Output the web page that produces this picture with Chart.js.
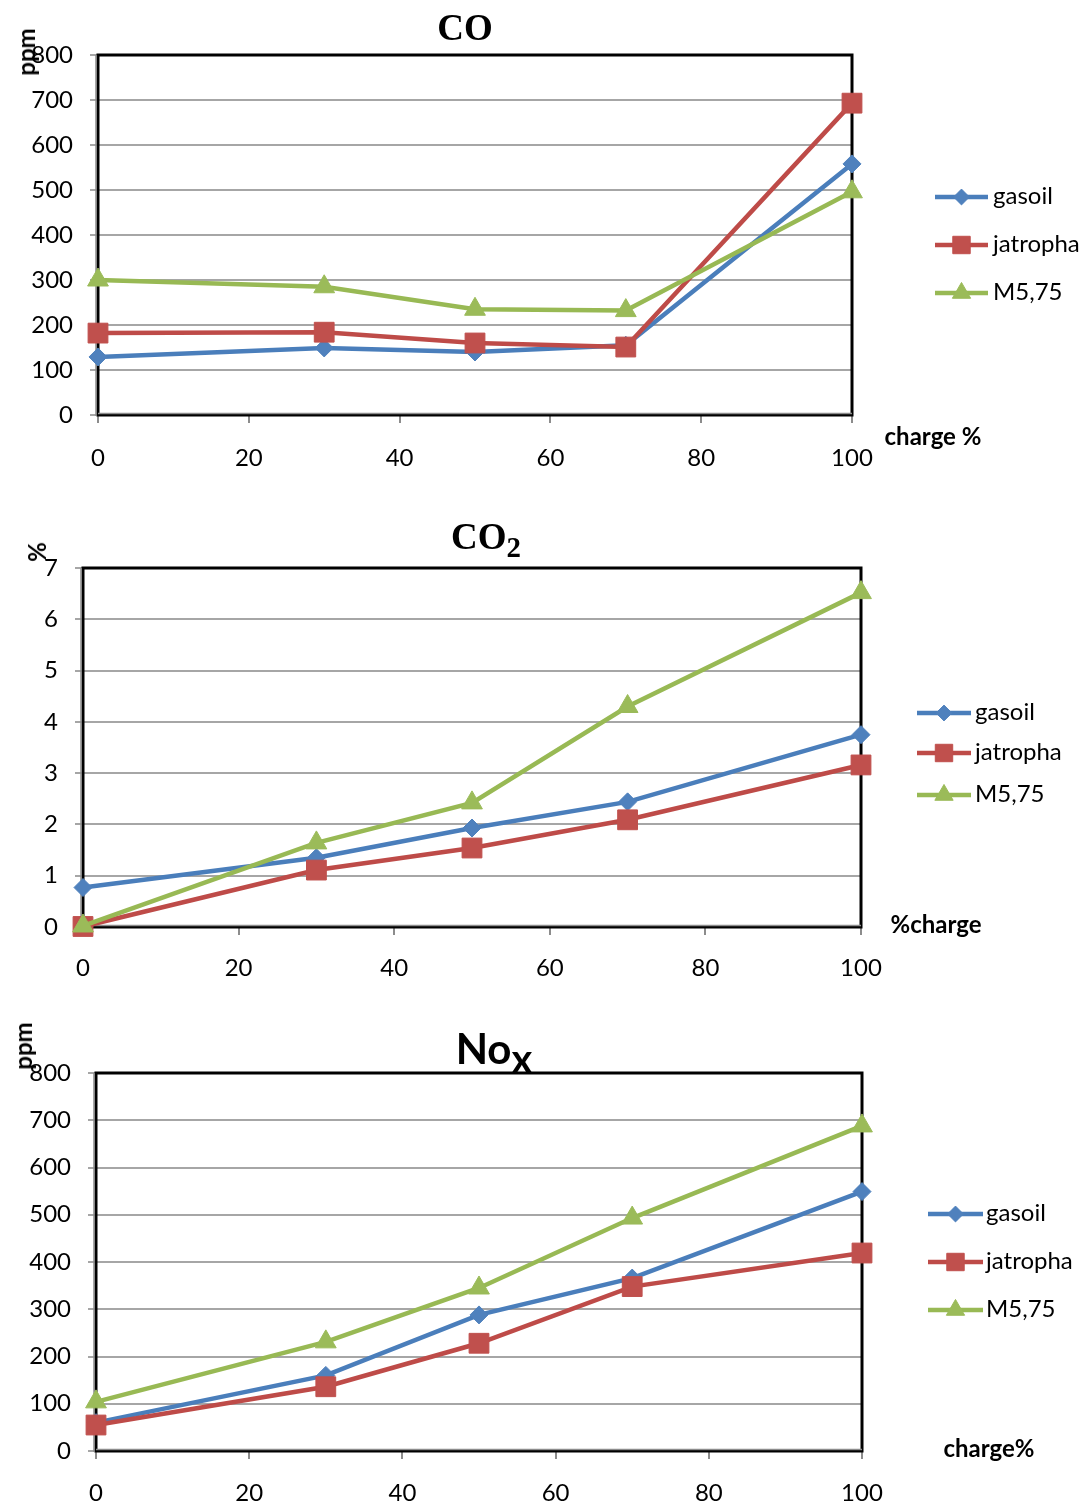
<!DOCTYPE html>
<html>
<head>
<meta charset="utf-8">
<script src="https://cdn.jsdelivr.net/npm/chart.js@4.4.1/dist/chart.umd.min.js"></script>
<style>
  html, body { margin: 0; padding: 0; background: #fff; }
  #wrap { position: relative; width: 1091px; height: 1504px; overflow: hidden; }
  canvas { position: absolute; left: 0; }
  .lbl { position: absolute; white-space: nowrap; line-height: 1; color: #000; }
</style>
</head>
<body>
<div id="wrap">
  <canvas id="c1" width="1091" height="490" style="top:0px"></canvas>
  <canvas id="c2" width="1091" height="510" style="top:490px"></canvas>
  <canvas id="c3" width="1091" height="504" style="top:1000px"></canvas>
</div>
<script>
// ---- data ----
const chargeLevels = [0, 30, 50, 70, 100];
const seriesLabels = ['gasoil', 'jatropha', 'M5,75'];

const coGasoil   = [129, 149, 140, 155, 558];
const coJatropha = [182, 184, 160, 151, 693];
const coM575     = [300, 285, 235, 232, 496];

const co2Gasoil   = [0.77, 1.35, 1.93, 2.44, 3.75];
const co2Jatropha = [0.01, 1.11, 1.54, 2.09, 3.16];
const co2M575     = [0.02, 1.64, 2.42, 4.30, 6.52];

const noxGasoil   = [60, 160, 288, 366, 549];
const noxJatropha = [55, 136, 228, 348, 419];
const noxM575     = [104, 231, 345, 493, 688];

// ---- styles ----
const lineColors   = ['#4A7EBB', '#BE4B48', '#98B954'];
const markerColors = ['#4F81BD', '#C0504D', '#9BBB59'];
const pointStyles  = ['rectRot', 'rect', 'triangle'];
const pointRadii   = [9, 14, 12];
const drawOrder    = [2, 1, 0];

Chart.defaults.font.family = 'Lato';
Chart.defaults.color = '#000';

const framePlugin = {
  id: 'frame',
  beforeDatasetsDraw(chart) {
    const { ctx, chartArea: a } = chart;
    ctx.save();
    ctx.strokeStyle = '#000';
    ctx.lineWidth = 3;
    ctx.strokeRect(a.left, a.top, a.right - a.left, a.bottom - a.top);
    ctx.strokeStyle = '#8c8c8c';
    ctx.lineWidth = 1.5;
    ctx.beginPath();
    ctx.moveTo(a.left - 2, a.top);
    ctx.lineTo(a.left - 2, a.bottom + 1);
    ctx.moveTo(a.left, a.bottom - 1.5);
    ctx.lineTo(a.right, a.bottom - 1.5);
    ctx.stroke();
    ctx.restore();
  }
};

const sideLegend = {
  id: 'sideLegend',
  afterDraw(chart, args, opts) {
    const ctx = chart.ctx;
    chart.data.datasets.forEach((ds, i) => {
      const y = opts.rows[i];
      ctx.save();
      ctx.strokeStyle = ds.borderColor;
      ctx.lineWidth = 4.5;
      ctx.beginPath();
      ctx.moveTo(opts.x1, y);
      ctx.lineTo(opts.x2, y);
      ctx.stroke();
      ctx.fillStyle = ds.pointBackgroundColor;
      ctx.strokeStyle = ds.pointBorderColor;
      ctx.lineWidth = 1;
      Chart.helpers.drawPoint(ctx, { pointStyle: ds.pointStyle, radius: ds.pointRadius * 0.88, rotation: 0, borderWidth: 1 }, (opts.x1 + opts.x2) / 2, y);
      ctx.fillStyle = '#000';
      ctx.font = '24px Lato';
      ctx.textAlign = 'left';
      ctx.textBaseline = 'alphabetic';
      ctx.fillText(ds.label, opts.tx, y + 7);
      ctx.restore();
    });
  }
};

function makeChart(id, cfg) {
  return new Chart(document.getElementById(id), {
    type: 'line',
    data: {
      datasets: seriesLabels.map((name, i) => ({
        label: name,
        data: chargeLevels.map((x, j) => ({ x: x, y: cfg.values[i][j] })),
        borderColor: lineColors[i],
        backgroundColor: markerColors[i],
        pointBackgroundColor: markerColors[i],
        pointBorderColor: markerColors[i],
        borderWidth: 4.5,
        pointStyle: pointStyles[i],
        pointRadius: pointRadii[i],
        pointBorderWidth: 1,
        tension: 0,
        fill: false,
        clip: false,
        order: drawOrder[i]
      }))
    },
    options: {
      responsive: false,
      animation: false,
      devicePixelRatio: 1,
      layout: { padding: { left: 0, top: cfg.top, right: 1091 - cfg.right, bottom: 0 } },
      plugins: {
        legend: { display: false },
        tooltip: { enabled: false },
        sideLegend: cfg.legend
      },
      scales: {
        x: {
          type: 'linear', min: 0, max: 100,
          ticks: { stepSize: 20, padding: cfg.xPad, color: '#000', font: { size: 24 } },
          grid: { drawOnChartArea: false, drawTicks: true, tickLength: 8, color: '#8c8c8c', lineWidth: 2 },
          border: { display: false },
          afterFit: s => { s.height = cfg.canvasH - cfg.bottom; }
        },
        y: {
          type: 'linear', min: 0, max: cfg.yMax,
          ticks: { stepSize: cfg.yStep, padding: 17, color: '#000', font: { size: 24 } },
          grid: { color: '#a6a6a6', lineWidth: 2, tickLength: 8 },
          border: { display: false },
          afterFit: s => { s.width = cfg.left; }
        }
      }
    },
    plugins: [framePlugin, sideLegend]
  });
}

makeChart('c1', {
  values: [coGasoil, coJatropha, coM575], yMax: 800, yStep: 100,
  left: 98, right: 852, top: 55, bottom: 415, canvasH: 490, xPad: 21,
  legend: { x1: 935, x2: 988, tx: 993, rows: [197, 245, 293] }
});
makeChart('c2', {
  values: [co2Gasoil, co2Jatropha, co2M575], yMax: 7, yStep: 1,
  left: 83, right: 861, top: 78, bottom: 437, canvasH: 510, xPad: 19,
  legend: { x1: 917, x2: 971, tx: 975, rows: [223, 263, 305] }
});
makeChart('c3', {
  values: [noxGasoil, noxJatropha, noxM575], yMax: 800, yStep: 100,
  left: 96, right: 862, top: 73, bottom: 451, canvasH: 504, xPad: 20,
  legend: { x1: 928, x2: 983, tx: 986, rows: [214, 262, 310] }
});

// ---- text overlays ----
const wrap = document.getElementById('wrap');
function addText(html, x, y, css, rotate) {
  const d = document.createElement('div');
  d.className = 'lbl';
  d.innerHTML = html;
  d.style.cssText += css;
  d.style.left = x + 'px';
  d.style.top = y + 'px';
  d.style.transform = 'translate(-50%,-50%)' + (rotate ? ' rotate(-90deg)' : '');
  wrap.appendChild(d);
}
const serifTitle = 'font-family:"Liberation Serif","Times New Roman",serif;font-weight:bold;font-size:37px;';
const sansBold = 'font-family:Lato,sans-serif;font-weight:bold;font-size:24px;';

addText('CO', 465, 27, serifTitle);
addText('CO<span style="font-size:0.78em;position:relative;top:0.27em">2</span>', 486, 536, serifTitle);
addText('No<span style="font-size:0.95em;position:relative;top:0.22em">x</span>', 494, 1048, 'font-family:Lato,sans-serif;font-weight:bold;font-size:42px;');

addText('ppm', 26, 52, sansBold, true);
addText('%', 37, 552, sansBold, true);
addText('ppm', 23, 1046, sansBold, true);

addText('charge %', 933, 436, sansBold);
addText('%charge', 936, 924, sansBold);
addText('charge%', 989, 1448, sansBold);
</script>
</body>
</html>
